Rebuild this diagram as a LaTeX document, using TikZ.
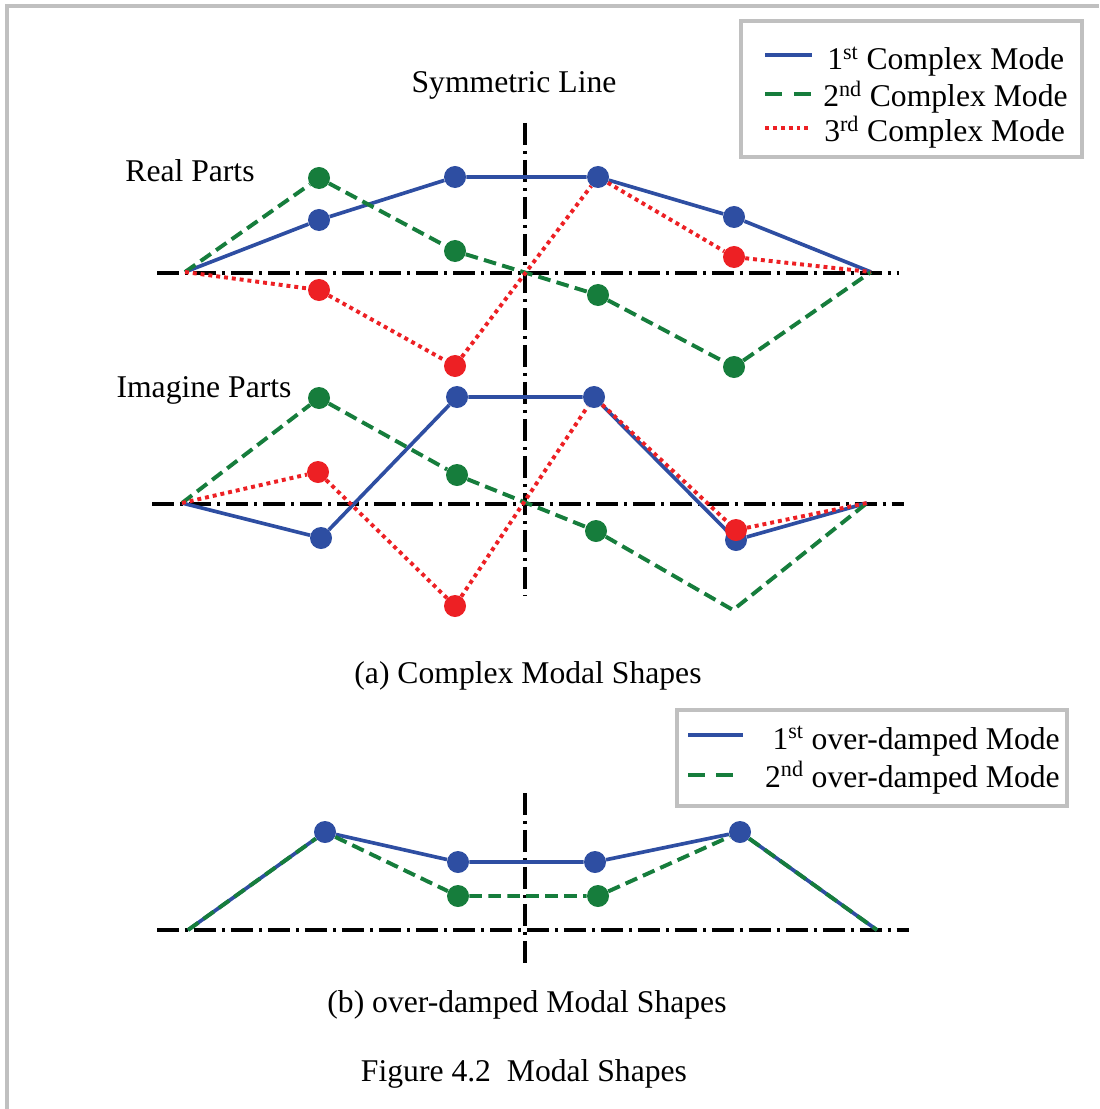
\documentclass[tikz,border=0pt]{standalone}
\usepackage{fontspec}
\setmainfont{Liberation Serif}
\usepackage{tikz}
\usetikzlibrary{backgrounds}

\definecolor{modeblue}{RGB}{46,78,162}
\definecolor{modegreen}{RGB}{22,125,60}
\definecolor{modered}{RGB}{237,32,36}
\definecolor{framegray}{RGB}{192,192,192}

\begin{document}
\begin{tikzpicture}[
  x=0.025cm, y=-0.025cm,
  font=\fontsize{22.5}{27}\selectfont,
  txt/.style={inner sep=0pt},
  mdot/.style={circle, fill=#1, inner sep=0pt, minimum size=0.55cm},
  mode1/.style={modeblue, line width=2.6pt},
  mode2/.style={modegreen, line width=2.8pt, dash pattern=on 9pt off 4.5pt},
  mode3/.style={modered, line width=2.8pt, dash pattern=on 2.8pt off 2.8pt},
  symline/.style={black, line width=2.2pt, dash pattern=on 15.6pt off 4.3pt on 2.1pt off 4.3pt},
  legbox/.style={draw=framegray, line width=2.2pt}
]
  \useasboundingbox (0,0) rectangle (1099,1109);
  \draw[framegray, line width=2.2pt] (7,1109) -- (7,6) -- (1099,6);

  % legend (a)
  \draw[legbox] (741,21) rectangle (1082,157);
  \coordinate (k1s) at (765,55);  \coordinate (k1e) at (812,55);
  \coordinate (k2s) at (765,94);  \coordinate (k2e) at (812,94);
  \coordinate (k3s) at (765,128); \coordinate (k3e) at (812,128);
  \draw[mode1] (k1s) -- (k1e);
  \draw[mode2, dash pattern=on 12pt off 8.5pt] (k2s) -- (k2e);
  \draw[mode3] (k3s) -- (k3e);
  \node[txt, anchor=base west] (k1) at (827,70)  {1\textsuperscript{st} Complex Mode};
  \node[txt, anchor=base west] (k2) at (823,107) {2\textsuperscript{nd} Complex Mode};
  \node[txt, anchor=base west] (k3) at (824,142) {3\textsuperscript{rd} Complex Mode};

  \node[txt, anchor=base] (sym) at (514,93)  {Symmetric Line};
  \node[txt, anchor=base] (re)  at (190,182) {Real Parts};
  \node[txt, anchor=base] (im)  at (204,397) {Imagine Parts};

  % real parts
  \coordinate (rL) at (185,272);
  \coordinate (rR) at (871,272);
  \node[mdot=modegreen] (rg1) at (319,178) {};
  \node[mdot=modegreen] (rg2) at (455,251) {};
  \node[mdot=modegreen] (rg3) at (598,295) {};
  \node[mdot=modegreen] (rg4) at (734,367) {};
  \node[mdot=modeblue]  (rb1) at (319,220) {};
  \node[mdot=modeblue]  (rb2) at (455,177) {};
  \node[mdot=modeblue]  (rb3) at (598,177) {};
  \node[mdot=modeblue]  (rb4) at (734,217) {};
  \node[mdot=modered]   (rr1) at (319,290) {};
  \node[mdot=modered]   (rr2) at (455,366) {};
  \node[mdot=modered]   (rr4) at (734,257) {};

  % imagine parts
  \coordinate (iL) at (182,503);
  \coordinate (iR) at (867,503);
  \coordinate (ig4) at (733,610);
  \node[mdot=modegreen] (ig1) at (319,398) {};
  \node[mdot=modegreen] (ig2) at (457,475) {};
  \node[mdot=modegreen] (ig3) at (596,531) {};
  \node[mdot=modeblue]  (ib1) at (321,538) {};
  \node[mdot=modeblue]  (ib2) at (457,397) {};
  \node[mdot=modeblue]  (ib3) at (594,397) {};
  \node[mdot=modeblue]  (ib4) at (736,540) {};
  \node[mdot=modered]   (ir1) at (318,472) {};
  \node[mdot=modered]   (ir2) at (455,606) {};
  \node[mdot=modered]   (ir4) at (736,530) {};

  \node[txt, anchor=base] (capa) at (528,683) {(a) Complex Modal Shapes};

  % legend (b)
  \draw[legbox] (677,710) rectangle (1067,806);
  \coordinate (l1s) at (688,735); \coordinate (l1e) at (743,735);
  \coordinate (l2s) at (688,775); \coordinate (l2e) at (735,775);
  \draw[mode1] (l1s) -- (l1e);
  \draw[mode2, dash pattern=on 12pt off 8pt] (l2s) -- (l2e);
  \node[txt, anchor=base east] (l1) at (1060,749) {1\textsuperscript{st} over-damped Mode};
  \node[txt, anchor=base east] (l2) at (1060,787) {2\textsuperscript{nd} over-damped Mode};

  % over-damped
  \coordinate (oL) at (188,930);
  \coordinate (oR) at (877,930);
  \node[mdot=modeblue]  (ob1) at (325,832) {};
  \node[mdot=modeblue]  (ob2) at (458,862) {};
  \node[mdot=modeblue]  (ob3) at (595,862) {};
  \node[mdot=modeblue]  (ob4) at (740,832) {};
  \node[mdot=modegreen] (og2) at (458,896) {};
  \node[mdot=modegreen] (og3) at (598,896) {};

  \node[txt, anchor=base] (capb) at (527,1012) {(b) over-damped Modal Shapes};
  \node[txt, anchor=base] (fig)  at (524,1081) {Figure 4.2\ \ Modal Shapes};

  \begin{scope}[on background layer]
    \draw[symline] (157,273) -- (899,273);
    \draw[symline] (152,504) -- (904,504);
    \draw[symline] (525,123) -- (525,595);
    \draw[symline] (157,930) -- (909,930);
    \draw[symline] (525,793) -- (525,966);

    \draw[mode1] (rL) -- (rb1) -- (rb2) -- (rb3) -- (rb4) -- (rR);
    \draw[mode2] (rL) -- (rg1) -- (rg2) -- (rg3) -- (rg4) -- (rR);
    \draw[mode3] (rL) -- (rr1) -- (rr2) -- (rb3) -- (rr4) -- (rR);

    \draw[mode1] (iL) -- (ib1) -- (ib2) -- (ib3) -- (ib4) -- (iR);
    \draw[mode2] (iL) -- (ig1) -- (ig2) -- (ig3) -- (ig4) -- (iR);
    \draw[mode3] (iL) -- (ir1) -- (ir2) -- (ib3) -- (ir4) -- (iR);

    \draw[mode1] (oL) -- (ob1) -- (ob2) -- (ob3) -- (ob4) -- (oR);
    \draw[mode2] (oL) -- (ob1) -- (og2) -- (og3) -- (ob4) -- (oR);
  \end{scope}
\end{tikzpicture}
\end{document}
